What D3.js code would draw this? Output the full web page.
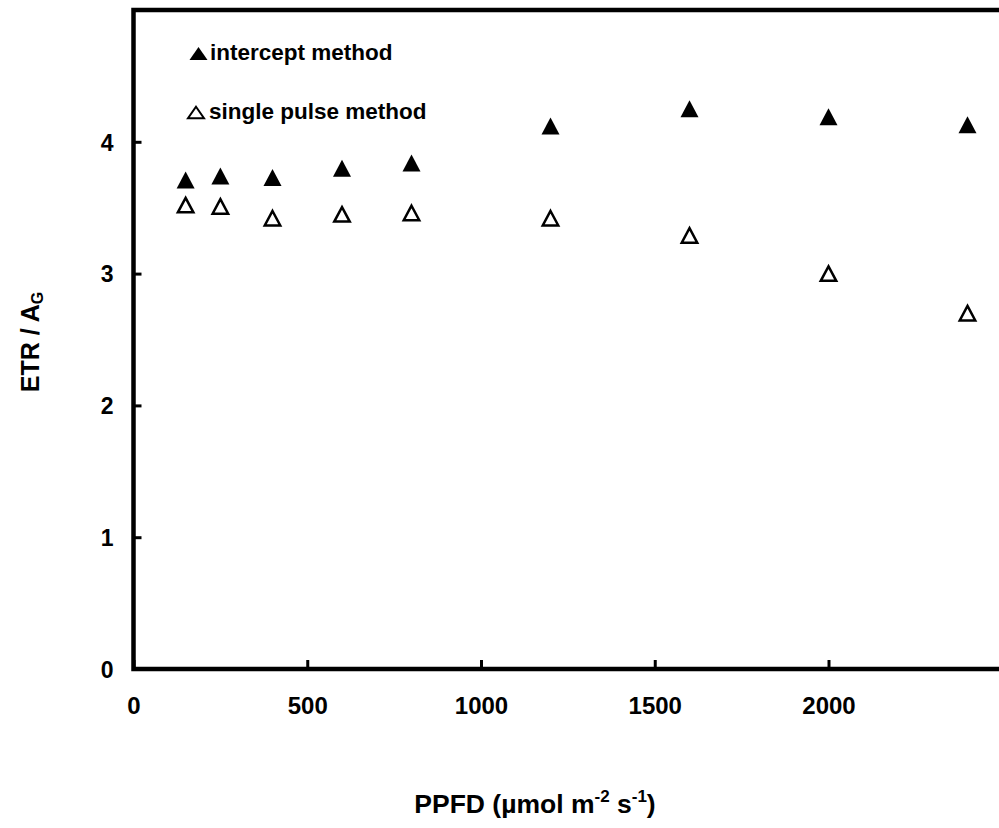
<!DOCTYPE html>
<html>
<head>
<meta charset="utf-8">
<script src="https://cdn.jsdelivr.net/npm/d3@7"></script>
<style>
  html, body { margin: 0; padding: 0; background: #fff; }
  svg { display: block; }
  text { font-family: "Liberation Sans", Arial, sans-serif; font-weight: bold; fill: #000; }
</style>
</head>
<body>
<svg id="chart" width="999" height="828"></svg>
<script>
const ppfd = [150, 250, 400, 600, 800, 1200, 1600, 2000, 2400];
const interceptMethod = [3.71, 3.74, 3.73, 3.80, 3.84, 4.12, 4.25, 4.19, 4.13];
const singlePulseMethod = [3.52, 3.51, 3.42, 3.45, 3.46, 3.42, 3.29, 3.00, 2.70];
const xTicks = [0, 500, 1000, 1500, 2000];
const yTicks = [0, 1, 2, 3, 4];
const seriesNames = ["intercept method", "single pulse method"];

const svg = d3.select("#chart");
const plotLeft = 133.5, plotBottom = 669, plotTop = 10, pxPerUnit = 0.3475;
const x = d3.scaleLinear().domain([0, 2600]).range([plotLeft, plotLeft + 2600 * pxPerUnit]);
const y = d3.scaleLinear().domain([0, 5]).range([plotBottom, plotTop]);

// frame (left, top, bottom lines; right side is outside the window)
svg.append("path")
  .attr("d", `M${x(2600)},${y(5)}H${x(0)}V${y(0)}H${x(2600)}`)
  .attr("fill", "none").attr("stroke", "#000").attr("stroke-width", 4.5)
  .attr("stroke-linejoin", "miter");

const fontFam = "Liberation Sans, Arial, sans-serif";

// x axis ticks & labels
const xAxis = d3.axisBottom(x).tickValues(xTicks).tickSize(-9).tickPadding(0).tickFormat(d3.format("d"));
const xg = svg.append("g").attr("transform", `translate(0,${y(0)})`).call(xAxis);
xg.select(".domain").remove();
xg.selectAll(".tick line").attr("stroke", "#000").attr("stroke-width", 3);
xg.selectAll(".tick text").attr("y", 0).attr("dy", 45)
  .style("font-size", "24px").style("font-family", fontFam).style("font-weight", "bold");

// y axis ticks & labels
const yAxis = d3.axisLeft(y).tickValues(yTicks).tickSize(-8).tickPadding(0).tickFormat(d3.format("d"));
const yg = svg.append("g").attr("transform", `translate(${x(0)},0)`).call(yAxis);
yg.select(".domain").remove();
yg.selectAll(".tick line").attr("stroke", "#000").attr("stroke-width", 3);
yg.selectAll(".tick text").attr("x", -20).attr("dy", "0.36em")
  .style("font-size", "23px").style("font-family", fontFam).style("font-weight", "bold");

// triangle path
function tri(w, h) {
  return `M0,${-h/2}L${w/2},${h/2}L${-w/2},${h/2}Z`;
}

// intercept (filled)
svg.append("g").selectAll("path").data(ppfd.map((p, i) => [p, interceptMethod[i]]))
  .join("path")
  .attr("transform", d => `translate(${x(d[0])},${y(d[1])})`)
  .attr("d", tri(18, 17)).attr("fill", "#000");

// single pulse (open)
svg.append("g").selectAll("path").data(ppfd.map((p, i) => [p, singlePulseMethod[i]]))
  .join("path")
  .attr("transform", d => `translate(${x(d[0])},${y(d[1])})`)
  .attr("d", tri(15.5, 14.5)).attr("fill", "#fff").attr("stroke", "#000").attr("stroke-width", 2.5);

// legend
const lg = svg.append("g");
lg.append("path").attr("transform", "translate(198.5,53.5)").attr("d", tri(18, 13)).attr("fill", "#000");
lg.append("text").attr("x", 210).attr("y", 60).style("font-size", "22.5px").text(seriesNames[0]);
lg.append("path").attr("transform", "translate(196,112.5)").attr("d", tri(16, 11.5)).attr("fill", "#fff")
  .attr("stroke", "#000").attr("stroke-width", 2);
lg.append("text").attr("x", 209).attr("y", 119).style("font-size", "22.5px").text(seriesNames[1]);

// y label
const yl = svg.append("text").attr("transform", "translate(39,342) rotate(-90)")
  .attr("text-anchor", "middle").style("font-size", "25px");
yl.append("tspan").text("ETR / A");
yl.append("tspan").attr("dy", 4).style("font-size", "16px").text("G");

// x label
const xl = svg.append("text").attr("x", 535).attr("y", 813).attr("text-anchor", "middle").style("font-size", "26.5px");
xl.append("tspan").text("PPFD (µmol m");
xl.append("tspan").attr("dy", -11).style("font-size", "17px").text("-2");
xl.append("tspan").attr("dy", 11).text(" s");
xl.append("tspan").attr("dy", -11).style("font-size", "17px").text("-1");
xl.append("tspan").attr("dy", 11).text(")");
</script>
</body>
</html>
